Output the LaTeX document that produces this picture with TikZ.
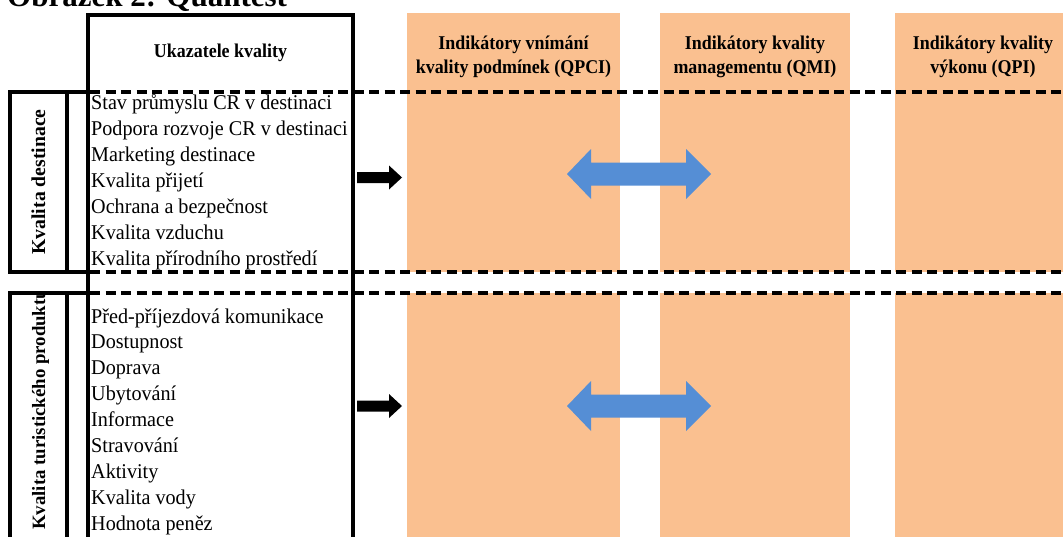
\documentclass[tikz,border=0pt]{standalone}
\usepackage{fontspec}
\setmainfont{Liberation Serif}
\newfontfamily\hdfont{Liberation Serif}[FakeStretch=0.92]
\newfontfamily\itemfont{Liberation Serif}[FakeStretch=0.96]
\definecolor{colfill}{HTML}{FAC090}
\definecolor{arrblue}{HTML}{558ED5}
\tikzset{
  boxline/.style={line width=4pt},
  sepline/.style={line width=4pt, dash pattern=on 10pt off 5.5pt},
  colbox/.style={fill=colfill, draw=none, inner sep=0pt, anchor=north west},
  item/.style={anchor=base west, inner sep=0pt, font=\itemfont\fontsize{21}{26}\selectfont},
  hdr/.style={inner sep=0pt, align=center, font=\hdfont\bfseries\fontsize{19.5}{24}\selectfont},
  side/.style={inner sep=0pt, rotate=90, font=\bfseries\fontsize{19.7}{24}\selectfont},
  blkarrow/.pic={\fill[black] (357,-5.5) -- (389,-5.5) -- (389,-12) -- (402,0) -- (389,12) -- (389,5.5) -- (357,5.5) -- cycle;},
  bluearrow/.pic={\fill[arrblue] (567,0) -- (591,-25) -- (591,-11.5) -- (686,-11.5) -- (686,-25) -- (711,0) -- (686,25) -- (686,11.5) -- (591,11.5) -- (591,25) -- cycle;}
}
\begin{document}
\begin{tikzpicture}[x=1pt,y=-1pt]
\useasboundingbox (0,0) rectangle (1063,536);
\clip (0,0) rectangle (1063,536);
% orange columns
\node[colbox, minimum width=213pt, minimum height=259pt] (c11) at (407,13) {};
\node[colbox, minimum width=190pt, minimum height=259pt] (c21) at (660,13) {};
\node[colbox, minimum width=180pt, minimum height=259pt] (c31) at (895,13) {};
\node[colbox, minimum width=213pt, minimum height=250pt] (c12) at (407,293) {};
\node[colbox, minimum width=190pt, minimum height=250pt] (c22) at (660,293) {};
\node[colbox, minimum width=180pt, minimum height=250pt] (c32) at (895,293) {};
% headers
\node[hdr] (h1) at (513.5,57) {Indikátory vnímání\\kvality podmínek (QPCI)};
\node[hdr] (h2) at (755,57) {Indikátory kvality\\managementu (QMI)};
\node[hdr] (h3) at (983,57) {Indikátory kvality\\výkonu (QPI)};
\node[anchor=base, inner sep=0pt, font=\hdfont\bfseries\fontsize{19.5}{24}\selectfont] (uk) at (220.5,57) {Ukazatele kvality};
% title
\node[anchor=base west, inner sep=0pt, font=\bfseries\fontsize{31}{36}\selectfont] (title) at (7,6) {Obrázek 2: Quantest};
% dashed separators
\draw[sepline] (90,92) -- (1063,92);
\draw[sepline] (90,272) -- (1063,272);
\draw[sepline] (90,293) -- (1063,293);
% side labels
\node[side, anchor=base] (kd) at (45,182) {Kvalita destinace};
\begin{scope}
\clip (10,295) rectangle (67,536);
\node[side, anchor=base west, font=\bfseries\fontsize{18.8}{24}\selectfont] (kt) at (45,530) {Kvalita turistického produktu};
\end{scope}
% solid frames
\draw[boxline] (88,560) -- (88,14.5) -- (353,14.5) -- (353,560);
\draw[boxline] (90,92) -- (10,92) -- (10,272) -- (90,272);
\draw[boxline] (67,92) -- (67,272);
\draw[boxline] (10,560) -- (10,293) -- (90,293);
\draw[boxline] (67,293) -- (67,560);
% items group 1
\foreach \t [count=\i from 0] in {Stav průmyslu CR v destinaci,Podpora rozvoje CR v destinaci,Marketing destinace,Kvalita přijetí,Ochrana a bezpečnost,Kvalita vzduchu,Kvalita přírodního prostředí}
  \node[item] (a\i) at (91,109+26*\i) {\t};
% items group 2
\foreach \t [count=\i from 0] in {Před-příjezdová komunikace,Dostupnost,Doprava,Ubytování,Informace,Stravování,Aktivity,Kvalita vody,Hodnota peněz}
  \node[item] (b\i) at (91,323+25.9*\i) {\t};
% arrows
\pic (ba1) at (0,177.5) {blkarrow};
\pic (ba2) at (0,406) {blkarrow};
\pic (da1) at (0,174) {bluearrow};
\pic (da2) at (0,406) {bluearrow};
\end{tikzpicture}
\end{document}
